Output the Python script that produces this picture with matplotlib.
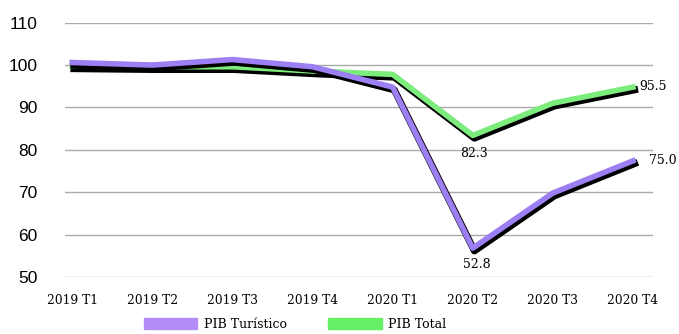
import numpy as np
import matplotlib.pyplot as plt
import matplotlib.patheffects as pe
from matplotlib.patches import Patch

# --- Datos ---
trimestres = ['2019 T1', '2019 T2', '2019 T3', '2019 T4',
              '2020 T1', '2020 T2', '2020 T3', '2020 T4']
pib_turistico = [100.6, 100.0, 101.3, 99.6, 94.8, 56.8, 69.8, 77.4]
pib_total = [99.8, 99.6, 99.6, 98.6, 97.8, 83.4, 91.0, 94.8]

# etiquetas de valor (índice, texto)
etiq_turistico = [(5, '52.8'), (7, '75.0')]
etiq_total = [(5, '82.3'), (7, '95.5')]

c_tur = '#9c7ff2'
c_tot = '#7ced7c'
fuente_serif = 'DejaVu Serif'

fig = plt.figure(figsize=(6.79, 3.34), dpi=100)
ax = fig.add_axes([0.0957, 0.1707, 0.866, 0.7614])

x = np.arange(len(trimestres))

sombra = lambda: [pe.Stroke(linewidth=5, foreground='black', offset=(1.2, -2.0)),
                  pe.Normal()]

ax.plot(x, pib_total, color=c_tot, lw=4, solid_joinstyle='round',
        path_effects=sombra(), zorder=3)
ax.plot(x, pib_turistico, color=c_tur, lw=4, solid_joinstyle='round',
        path_effects=sombra(), zorder=4)

# etiquetas
i, t = etiq_total[0]
ax.text(x[i] + 0.02, pib_total[i] - 2.8, t, ha='center', va='top',
        fontsize=9, family=fuente_serif)
i, t = etiq_total[1]
ax.text(x[i] + 0.08, pib_total[i] + 0.1, t, ha='left', va='center',
        fontsize=9, family=fuente_serif)
i, t = etiq_turistico[0]
ax.text(x[i] + 0.05, pib_turistico[i] - 2.3, t, ha='center', va='top',
        fontsize=9, family=fuente_serif)
i, t = etiq_turistico[1]
ax.text(x[i] + 0.2, pib_turistico[i] + 0.1, t, ha='left', va='center',
        fontsize=9, family=fuente_serif)

ax.set_ylim(50, 110)
ax.set_xlim(-0.09, 7.25)
ax.set_yticks(np.arange(50, 111, 10))
ax.set_xticks(x)
ax.set_xticklabels(trimestres, family=fuente_serif, fontsize=8.8)
for lab in ax.get_yticklabels():
    lab.set_family('Liberation Sans')
    lab.set_fontsize(12.5)
ax.tick_params(axis='y', length=0, pad=20)
ax.tick_params(axis='x', length=0, pad=12)
ax.grid(True, axis='y', color='#aaaaaa', lw=1)
ax.set_axisbelow(True)
for s in ax.spines.values():
    s.set_visible(False)

handles = [Patch(color='#b38cf7', label='PIB Turístico'),
           Patch(color='#66f066', label='PIB Total')]
fig.legend(handles=handles, loc='lower left', bbox_to_anchor=(0.195, -0.025),
           ncol=2, frameon=False, handlelength=4.3, handleheight=1.0,
           handletextpad=0.5, columnspacing=3.3,
           prop={'family': fuente_serif, 'size': 9})

fig.savefig('out.png', dpi=100)
